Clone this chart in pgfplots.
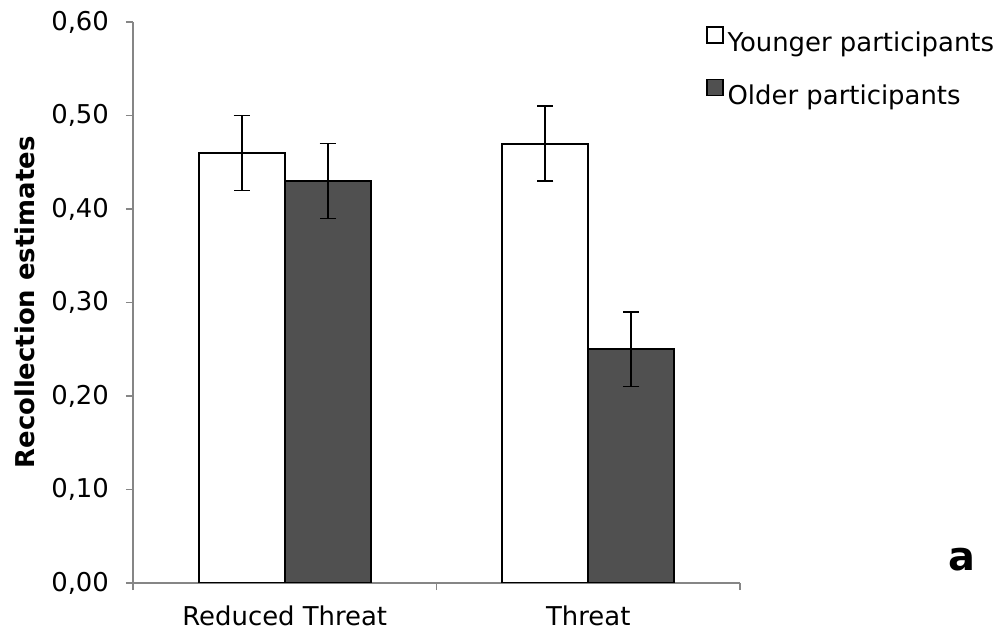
\documentclass[border=0pt]{standalone}
\usepackage{fontspec}
\setmainfont{DejaVu Sans}
\usepackage{pgfplots}
\pgfplotsset{compat=1.18}

\definecolor{axisgray}{RGB}{134,134,134}
\definecolor{oldgray}{RGB}{80,80,80}

\begin{document}
\begin{tikzpicture}
\useasboundingbox (-66.5bp,-27bp) rectangle (437.5bp,291.5bp);
\begin{axis}[
    at={(0,0)}, anchor=south west,
    scale only axis,
    width=303.5bp, height=280.5bp,
    ybar=0pt, bar width=43bp,
    xmin=-0.5, xmax=1.5,
    ymin=0, ymax=0.6,
    axis lines*=left,
    axis line style={axisgray, line width=0.8bp},
    xtick={0,1},
    xticklabels={Reduced Threat, Threat},
    minor xtick={-0.5,0.5,1.5},
    major x tick style={draw=none},
    minor x tick style={axisgray, line width=0.8bp},
    ytick={0,0.1,0.2,0.3,0.4,0.5,0.6},
    y tick style={axisgray, line width=0.8bp},
    tick align=outside,
    major tick length=3.5bp,
    minor tick length=3.5bp,
    tick label style={font=\fontsize{13}{15}\selectfont},
    xticklabel style={yshift=-4.5bp},
    yticklabel style={xshift=-5bp,
        /pgf/number format/.cd, fixed, fixed zerofill, precision=2,
        use comma, assume math mode=true},
    ylabel={Recollection estimates},
    every axis y label/.style={at={(axis description cs:-0.178,0.5)},
        rotate=90, anchor=center,
        font=\bfseries\fontsize{13}{15}\selectfont},
    legend image code/.code={
        \draw[#1, line width=0.6bp] (0bp,0bp) rectangle (8bp,8bp);},
    legend style={at={(rel axis cs:0.944,0.993)}, anchor=north west,
        draw=none, fill=none, inner sep=0pt,
        nodes={inner sep=0pt, font=\fontsize{13}{15}\selectfont},
        row sep=12.5bp,
        /tikz/every odd column/.append style={column sep=2bp}},
    legend cell align=left,
    error bars/y dir=both,
    error bars/y explicit,
    error bars/error bar style={black, line width=0.8bp},
    error bars/error mark options={rotate=90, black, mark size=4bp, line width=0.8bp},
]
\addplot[draw=black, line width=1bp, fill=white]
    coordinates {(0,0.46) +- (0,0.04) (1,0.47) +- (0,0.04)};
\addplot[draw=black, line width=1bp, fill=oldgray]
    coordinates {(0,0.43) +- (0,0.04) (1,0.25) +- (0,0.04)};
\legend{Younger participants, Older participants}
\end{axis}
\node[font=\bfseries\fontsize{20}{24}\selectfont] at (414.5bp,11.5bp) {a};
\end{tikzpicture}
\end{document}
